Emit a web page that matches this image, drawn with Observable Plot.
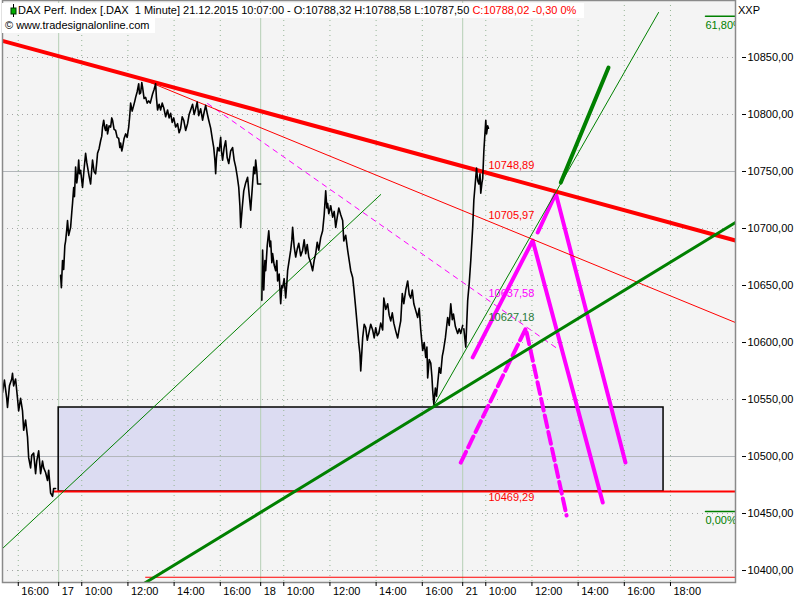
<!DOCTYPE html>
<html><head><meta charset="utf-8">
<script src="https://cdn.jsdelivr.net/npm/d3@7"></script>
<script src="https://cdn.jsdelivr.net/npm/@observablehq/plot@0.6"></script>
<style>
body{margin:0;background:#fff;font-family:"Liberation Sans",Arial,sans-serif;}
#wrap{position:relative;width:800px;height:600px;overflow:hidden;}
.hdr{position:absolute;background:#fff;font-size:11px;line-height:15px;white-space:pre;color:#000;}
</style></head><body>
<div id="wrap"><div id="chart"></div></div>
<script>
// ---------- time helpers (trading-session time axis) ----------
const dayIndex = {16:0, 17:1, 18:2, 21:3};
const sessionHours = 8.75; // 09:00 - 17:45
const T = (day, hhmm) => { const [h, m] = hhmm.split(":").map(Number); return dayIndex[day] * sessionHours + (h - 9) + m / 60; };

// ---------- DAX 1-minute price ----------
const priceDec16 = [["15:19",10556],["15:24",10567],["15:30",10551],["15:32",10543],["15:37",10562],["15:43",10568],["15:45",10573],["15:48",10562],["15:53",10568],["15:58",10551],["16:01",10540],["16:06",10551],["16:11",10540],["16:14",10523],["16:19",10532],["16:24",10517],["16:27",10499],["16:32",10490],["16:35",10501],["16:40",10503],["16:45",10485],["16:48",10496],["16:53",10505],["16:58",10485],["17:03",10496],["17:06",10490],["17:11",10486],["17:16",10479],["17:19",10488],["17:24",10468],["17:29",10465],["17:32",10472],["17:37",10472]];
const priceDec17 = [["09:05",10659],["09:07",10648],["09:10",10672],["09:13",10664],["09:16",10685],["09:18",10689],["09:21",10699],["09:23",10707],["09:26",10694],["09:31",10701],["09:34",10714],["09:36",10722],["09:39",10736],["09:41",10728],["09:44",10754],["09:47",10740],["09:49",10745],["09:52",10760],["09:54",10748],["09:57",10751],["10:00",10742],["10:02",10736],["10:06",10752],["10:10",10766],["10:13",10758],["10:15",10754],["10:19",10746],["10:23",10739],["10:26",10752],["10:28",10760],["10:32",10750],["10:36",10748],["10:39",10758],["10:41",10766],["10:45",10770],["10:49",10777],["10:52",10781],["10:54",10789],["10:57",10795],["11:00",10788],["11:02",10786],["11:05",10791],["11:07",10783],["11:11",10790],["11:15",10789],["11:18",10797],["11:20",10795],["11:24",10787],["11:28",10786],["11:32",10780],["11:36",10779],["11:39",10771],["11:41",10775],["11:44",10768],["11:46",10771],["11:50",10779],["11:54",10783],["11:58",10780],["12:02",10789],["12:05",10800],["12:07",10810],["12:11",10803],["12:15",10808],["12:18",10812],["12:20",10815],["12:24",10820],["12:28",10827],["12:30",10818],["12:33",10819],["12:36",10828],["12:38",10824],["12:42",10814],["12:46",10815],["12:50",10810],["12:54",10812],["12:58",10810],["13:04",10818],["13:08",10822],["13:12",10827],["13:14",10815],["13:17",10804],["13:21",10809],["13:25",10804],["13:29",10810],["13:33",10806],["13:38",10798],["13:43",10804],["13:47",10797],["13:51",10801],["13:55",10793],["13:59",10797],["14:04",10789],["14:09",10792],["14:13",10784],["14:17",10788],["14:21",10798],["14:25",10795],["14:30",10786],["14:35",10792],["14:39",10800],["14:43",10804],["14:48",10809],["14:52",10800],["14:56",10805],["15:00",10811],["15:04",10799],["15:09",10805],["15:14",10795],["15:18",10802],["15:22",10808],["15:26",10801],["15:30",10795],["15:35",10788],["15:40",10777],["15:43",10771],["15:46",10760],["15:48",10748],["15:50",10762],["15:53",10771],["15:57",10768],["16:01",10780],["16:03",10768],["16:06",10760],["16:10",10771],["16:14",10777],["16:18",10762],["16:22",10757],["16:27",10768],["16:32",10771],["16:36",10760],["16:40",10754],["16:44",10746],["16:48",10736],["16:51",10720],["16:53",10701],["16:57",10718],["17:01",10733],["17:06",10740],["17:11",10745],["17:15",10730],["17:19",10716],["17:23",10735],["17:27",10754],["17:30",10748],["17:32",10760],["17:35",10750],["17:37",10739],["17:45",10739]];
const priceDec18 = [["09:03",10637],["09:05",10681],["09:08",10646],["09:11",10672],["09:13",10663],["09:17",10685],["09:21",10698],["09:24",10684],["09:26",10689],["09:29",10670],["09:31",10678],["09:35",10668],["09:39",10663],["09:42",10672],["09:44",10654],["09:48",10660],["09:52",10634],["09:55",10650],["09:57",10648],["10:01",10656],["10:05",10639],["10:08",10652],["10:10",10663],["10:14",10672],["10:18",10681],["10:21",10690],["10:23",10701],["10:27",10684],["10:31",10675],["10:35",10682],["10:39",10687],["10:44",10676],["10:49",10681],["10:53",10690],["10:57",10678],["11:01",10686],["11:05",10675],["11:10",10670],["11:15",10663],["11:19",10672],["11:23",10678],["11:27",10688],["11:31",10681],["11:36",10692],["11:41",10698],["11:45",10712],["11:49",10733],["11:52",10718],["11:54",10722],["11:57",10713],["12:02",10720],["12:07",10710],["12:11",10715],["12:15",10701],["12:19",10710],["12:23",10718],["12:28",10712],["12:33",10707],["12:36",10689],["12:41",10694],["12:46",10681],["12:50",10672],["12:54",10663],["12:59",10657],["13:02",10648],["13:07",10630],["13:12",10611],["13:15",10599],["13:18",10590],["13:20",10575],["13:23",10592],["13:25",10604],["13:29",10616],["13:33",10613],["13:37",10602],["13:41",10608],["13:46",10616],["13:51",10611],["13:55",10604],["13:59",10613],["14:03",10606],["14:07",10608],["14:12",10617],["14:17",10611],["14:20",10639],["14:25",10629],["14:30",10634],["14:34",10624],["14:38",10619],["14:42",10626],["14:46",10617],["14:51",10610],["14:56",10604],["15:00",10612],["15:04",10619],["15:08",10643],["15:12",10634],["15:17",10646],["15:22",10654],["15:26",10642],["15:30",10639],["15:34",10646],["15:38",10634],["15:43",10628],["15:48",10622],["15:52",10630],["15:56",10611],["16:01",10593],["16:05",10600],["16:09",10587],["16:12",10596],["16:14",10569],["16:18",10585],["16:22",10582],["16:25",10570],["16:27",10558],["16:30",10546],["16:34",10560],["16:37",10553],["16:40",10564],["16:44",10578],["16:48",10573],["16:52",10588],["16:55",10593],["17:00",10604],["17:06",10622],["17:10",10615],["17:14",10634],["17:18",10620],["17:21",10625],["17:26",10614],["17:32",10608],["17:36",10612],["17:40",10608],["17:45",10615]];
const priceDec21 = [["09:03",10612],["09:08",10596],["09:13",10637],["09:17",10652],["09:21",10672],["09:26",10701],["09:29",10725],["09:34",10745],["09:36",10753],["09:39",10742],["09:42",10739],["09:45",10748],["09:47",10731],["09:50",10740],["09:52",10744],["09:55",10768],["10:00",10795],["10:02",10783],["10:05",10790],["10:07",10788]];

// ---------- drawn analysis objects: [day, time, price] ----------
const redThick        = [[16,"15:14",10865.0],[21,"20:49",10689.5]];
const redThin         = [[17,"12:59",10828.0],[21,"20:49",10617.5]];
const pinkThinDashed  = [[17,"15:27",10809.6],[21,"13:02",10595.6]];
const greenThinLow    = [[16,"15:19",10419.3],[18,"14:12",10729.8]];
const greenThick      = [[17,"12:33",10386.8],[21,"20:49",10705.3]];
const greenThinSteep  = [[18,"16:30",10544.7],[21,"17:29",10889.5]];
const greenThickSteep = [[21,"13:15",10740.3],[21,"15:19",10841.2]];
const pinkSolidA      = [[21,"09:26",10587.0],[21,"12:02",10689.5],[21,"15:04",10459.6]];
const pinkSolidB      = [[21,"12:15",10696.5],[21,"13:02",10730.7],[21,"16:03",10494.7]];
const pinkDashedZig   = [[21,"08:55",10494.7],[21,"11:44",10612.3],[21,"13:30",10448.2]];
const supportBox      = {from:[17,"09:00"], to:[21,"17:42"], low:10469.29, high:10543.0};
const supportLevel    = {from:[16,"17:32"], to:[21,"20:49"], price:10469.29};
const bottomLevel     = {from:[17,"12:46"], to:[21,"20:49"], price:10394.1};
const levelValues     = [10748.89, 10705.97, 10637.58, 10627.18, 10469.29];
const levelLabelTime  = [21,"10:07"];
const fibLevels       = [{pct:"61,80%", price:10886.2},{pct:"0,00%", price:10451.75}];
const fibFrom         = [21,"19:31"];

// ---------- axes ----------
const yTicks = [10400,10450,10500,10550,10600,10650,10700,10750,10800,10850];
const ySolidGrid = [10500,10750];
const xTickDefs = [[16,"16:00","16:00"],[17,"09:00","17"],[17,"10:00","10:00"],[17,"12:00","12:00"],[17,"14:00","14:00"],[17,"16:00","16:00"],[18,"09:00","18"],[18,"10:00","10:00"],[18,"12:00","12:00"],[18,"14:00","14:00"],[18,"16:00","16:00"],[21,"09:00","21"],[21,"10:00","10:00"],[21,"12:00","12:00"],[21,"14:00","14:00"],[21,"16:00","16:00"],[21,"18:00","18:00"]];
const headerMain = "DAX Perf. Index [.DAX  1 Minute] 21.12.2015 10:07:00 - O:10788,32 H:10788,58 L:10787,50 ";
const headerClose = "C:10788,02 -0,30 0%";
const headerCopy = "\u00A9 www.tradesignalonline.com";

// ---------- build ----------
const price = [[16,priceDec16],[17,priceDec17],[18,priceDec18],[21,priceDec21]]
  .flatMap(([day, arr]) => arr.map(([time, v]) => ({day, t: T(day, time), v})));
const pts = arr => arr.map(([d, time, v]) => ({t: T(d, time), v}));
const fmt = v => v.toFixed(2).replace(".", ",");
const xTickVals = xTickDefs.map(([d, time]) => T(d, time));
const xLabel = new Map(xTickDefs.map(([d, time, lab]) => [T(d, time), lab]));
const dayStarts = xTickDefs.filter(d => d[1] === "09:00").map(([d, time]) => T(d, time));
const dotX = xTickDefs.filter(d => d[1] !== "09:00").map(([d, time]) => T(d, time));
const dotY = yTicks.filter(v => !ySolidGrid.includes(v));
const box = [{x1: T(...supportBox.from), x2: T(...supportBox.to), y1: supportBox.low, y2: supportBox.high}];

const RED = "#ff0000", PINK = "#ff00ff", GREEN = "#008000";
const labelStyle = [
  {fill: RED, dy: -7}, {fill: RED, dy: -6}, {fill: PINK, dy: -6}, {fill: "#2a7a3a", dy: 6}, {fill: RED, dy: 6}
];
const L = (arr, o) => Plot.line(pts(arr), {x: "t", y: "v", clip: true, ...o});
const hline = (o, style) => Plot.line([{t: T(...o.from), v: o.price}, {t: T(...o.to), v: o.price}], {x: "t", y: "v", clip: true, ...style});

const chart = Plot.plot({
  width: 800, height: 600,
  marginLeft: 2, marginRight: 65, marginTop: 0, marginBottom: 18,
  style: {fontFamily: "'Liberation Sans', Arial, sans-serif", fontSize: "11px", background: "#fff", color: "#000", overflow: "visible"},
  x: {type: "linear", domain: [T(16,"15:19"), T(21,"20:49")]},
  y: {domain: [10389.5, 10900]},
  marks: [
    Plot.frame({fill: "#f4f4f4"}),
    Plot.rect(box, {x1: "x1", x2: "x2", y1: "y1", y2: "y2", fill: "#dcdcf2"}),
    Plot.ruleX(dotX, {stroke: "#95b595", strokeDasharray: "1,4"}),
    Plot.ruleX(dayStarts, {stroke: "#b6cfb6"}),
    Plot.ruleY(dotY, {stroke: "#a5a5a5", strokeDasharray: "1,4"}),
    Plot.ruleY(ySolidGrid, {stroke: "#b2b6ba"}),
    Plot.rect(box, {x1: "x1", x2: "x2", y1: "y1", y2: "y2", fill: "none", stroke: "#000", strokeWidth: 1.5}),
    hline(bottomLevel, {stroke: RED, strokeWidth: 1}),
    hline(supportLevel, {stroke: RED, strokeWidth: 2}),
    L(pinkThinDashed, {stroke: PINK, strokeWidth: 1, strokeDasharray: "5,5"}),
    L(pinkDashedZig, {stroke: PINK, strokeWidth: 4, strokeDasharray: "12,5"}),
    L(pinkSolidA, {stroke: PINK, strokeWidth: 4}),
    L(pinkSolidB, {stroke: PINK, strokeWidth: 4}),
    L(redThin, {stroke: RED, strokeWidth: 1}),
    L(redThick, {stroke: RED, strokeWidth: 4}),
    L(greenThinLow, {stroke: GREEN, strokeWidth: 1}),
    L(greenThinSteep, {stroke: GREEN, strokeWidth: 1}),
    L(greenThick, {stroke: GREEN, strokeWidth: 3}),
    L(greenThickSteep, {stroke: GREEN, strokeWidth: 4}),
    ...fibLevels.flatMap(f => [
      Plot.line([{t: T(...fibFrom), v: f.price}, {t: T(21,"20:49"), v: f.price}], {x: "t", y: "v", stroke: GREEN, strokeWidth: 1.5, clip: true}),
      Plot.text([f], {x: () => T(...fibFrom), y: "price", text: "pct", fill: GREEN, textAnchor: "start", dy: 9, fontSize: 11, clip: true})
    ]),
    ...levelValues.map((v, i) => Plot.text([v], {x: () => T(...levelLabelTime), y: d => d, text: d => fmt(d), textAnchor: "start", fontSize: 11, ...labelStyle[i]})),
    Plot.line(price, {x: "t", y: "v", z: "day", stroke: "#000", strokeWidth: 1.6, clip: true}),
    Plot.frame({stroke: "#8a8a8a", strokeWidth: 1.5}),
    Plot.axisY(yTicks, {anchor: "right", tickSize: 4, tickPadding: 2, dx: 6, tickFormat: fmt, fontSize: 11, label: null, fill: "#000"}),
    Plot.axisX(xTickVals, {anchor: "bottom", tickSize: 4, tickFormat: () => "", label: null}),
    Plot.axisX(xTickVals, {anchor: "bottom", tickSize: 0, tickPadding: 5, dx: 3, textAnchor: "start", tickFormat: d => xLabel.get(d), fontSize: 11, label: null, fill: "#000"})
  ]
});
document.getElementById("chart").appendChild(chart);

// header overlay (real text)
const wrap = document.getElementById("wrap");
const h1 = document.createElement("div");
h1.className = "hdr"; h1.style.left = "2px"; h1.style.top = "3px"; h1.style.width = "582px"; h1.style.height = "15px";
h1.innerHTML = '<svg width="16" height="15" style="position:absolute;left:4px;top:0"><line x1="7.5" y1="1" x2="7.5" y2="14" stroke="#000"/><rect x="5" y="5" width="5" height="6" fill="#00b000" stroke="#003000"/></svg>';
const s1 = document.createElement("span"); s1.textContent = headerMain; s1.style.position = "absolute"; s1.style.left = "16px";
const s2 = document.createElement("span"); s2.textContent = headerClose; s2.style.color = "#ff0000";
s1.appendChild(s2); h1.appendChild(s1); wrap.appendChild(h1);
const h2 = document.createElement("div");
h2.className = "hdr"; h2.style.left = "2px"; h2.style.top = "18px"; h2.style.width = "150px"; h2.style.height = "15px"; h2.style.paddingLeft = "3px";
h2.textContent = headerCopy; wrap.appendChild(h2);
const h3 = document.createElement("div");
h3.className = "hdr"; h3.style.left = "738px"; h3.style.top = "3px"; h3.style.background = "transparent";
h3.textContent = "XXP"; wrap.appendChild(h3);
</script></body></html>
